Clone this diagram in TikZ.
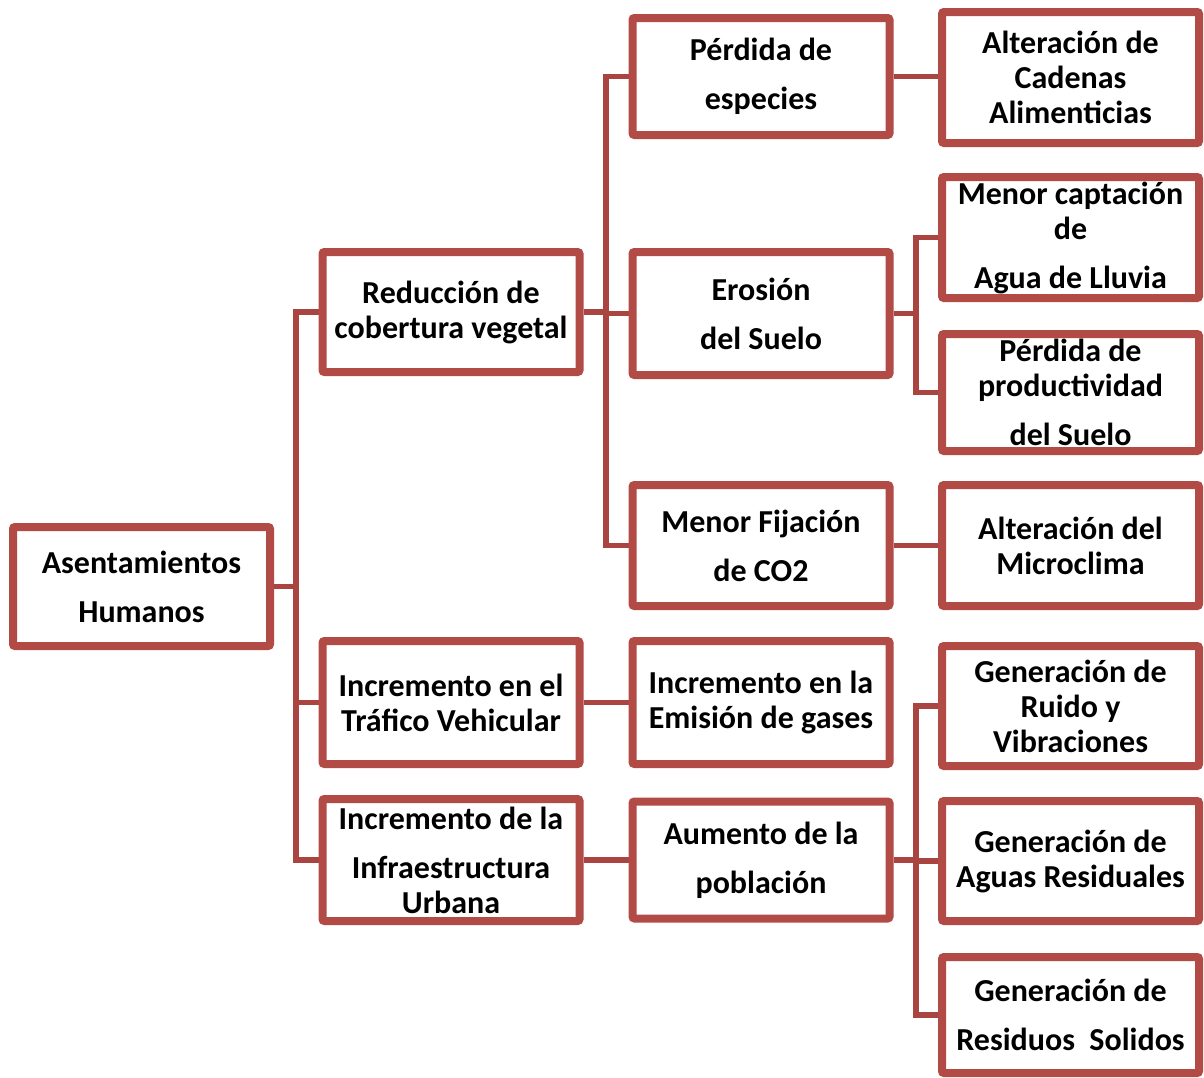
\documentclass[tikz,border=0pt]{standalone}
\usepackage{fontspec}
\setmainfont{Carlito}
\usetikzlibrary{shadows,backgrounds}
\definecolor{bord}{RGB}{178,74,70}
\definecolor{conn}{RGB}{170,68,64}
\tikzset{
  box/.style={draw=bord, line width=6pt, fill=white, rounded corners=1.5pt,
    minimum width=192.75pt, inner sep=0pt, align=center,
    font=\fontsize{24}{26.25}\selectfont\bfseries,
    drop shadow={shadow xshift=1pt, shadow yshift=-2.5pt, opacity=0.35, fill=black!60}},
  link/.style={draw=conn, line width=3.8pt}
}
\begin{document}
\begin{tikzpicture}[x=0.75pt,y=-0.75pt]
\useasboundingbox (0,0) rectangle (1204,1078);
% level 0
\node[box, minimum height=89.25pt] (A) at (141.5,586.5) {Asentamientos\\[10.5pt]Humanos};
% level 1
\node[box, minimum height=90pt] (R) at (451,312) {Reducción de\\cobertura vegetal};
\node[box, minimum height=92.25pt] (T) at (451,702.5) {Incremento en el\\Tráfico Vehicular};
\node[box, minimum height=91.5pt] (I) at (451,860) {Incremento de la\\[10.5pt]Infraestructura\\Urbana};
% level 2
\node[box, minimum height=87.75pt] (P) at (761,76.5) {Pérdida de\\[10.5pt]especies};
\node[box, minimum height=92.25pt] (E) at (761,313.5) {Erosión\\[10.5pt]del Suelo};
\node[box, minimum height=90.75pt] (F) at (761,545.5) {Menor Fijación\\[10.5pt]de CO2};
\node[box, minimum height=92.25pt] (G) at (761,702.5) {Incremento en la\\Emisión de gases};
\node[box, minimum height=87.75pt] (U) at (761,860) {Aumento de la\\[10.5pt]población};
% level 3
\node[box, minimum height=98.25pt] (C) at (1070.5,77.5) {Alteración de\\Cadenas\\Alimenticias};
\node[box, minimum height=90.75pt] (L) at (1070.5,237.5) {Menor captación\\de\\[10.5pt]Agua de Lluvia};
\node[box, minimum height=87.75pt] (S) at (1070.5,392.5) {Pérdida de\\productividad\\[10.5pt]del Suelo};
\node[box, minimum height=90.75pt] (M) at (1070.5,545.5) {Alteración del\\Microclima};
\node[box, minimum height=90pt] (V) at (1070.5,706) {Generación de\\Ruido y\\Vibraciones};
\node[box, minimum height=90pt] (W) at (1070.5,861) {Generación de\\Aguas Residuales};
\node[box, minimum height=87pt] (X) at (1070.5,1015) {Generación de\\[10.5pt]Residuos\ \ Solidos};
% junctions
\coordinate (j1) at (296,0);
\coordinate (j2) at (606,0);
\coordinate (j3) at (916,0);
\begin{scope}[on background layer]
\draw[link] (A.east) -- (A.east -| j1);
\draw[link] (R.west) -| (j1 |- I.west) -- (I.west);
\draw[link] (T.west) -- (T.west -| j1);
\draw[link] (R.east) -- (R.east -| j2);
\draw[link] (P.west) -| (j2 |- F.west) -- (F.west);
\draw[link] (E.west) -- (E.west -| j2);
\draw[link] (P.east) -- (C.west |- P.east);
\draw[link] (E.east) -- (E.east -| j3);
\draw[link] (L.west) -| (j3 |- S.west) -- (S.west);
\draw[link] (F.east) -- (M.west);
\draw[link] (T.east) -- (G.west);
\draw[link] (I.east) -- (U.west);
\draw[link] (U.east) -- (U.east -| j3);
\draw[link] (V.west) -| (j3 |- X.west) -- (X.west);
\draw[link] (W.west) -- (W.west -| j3);
\end{scope}
\end{tikzpicture}
\end{document}
